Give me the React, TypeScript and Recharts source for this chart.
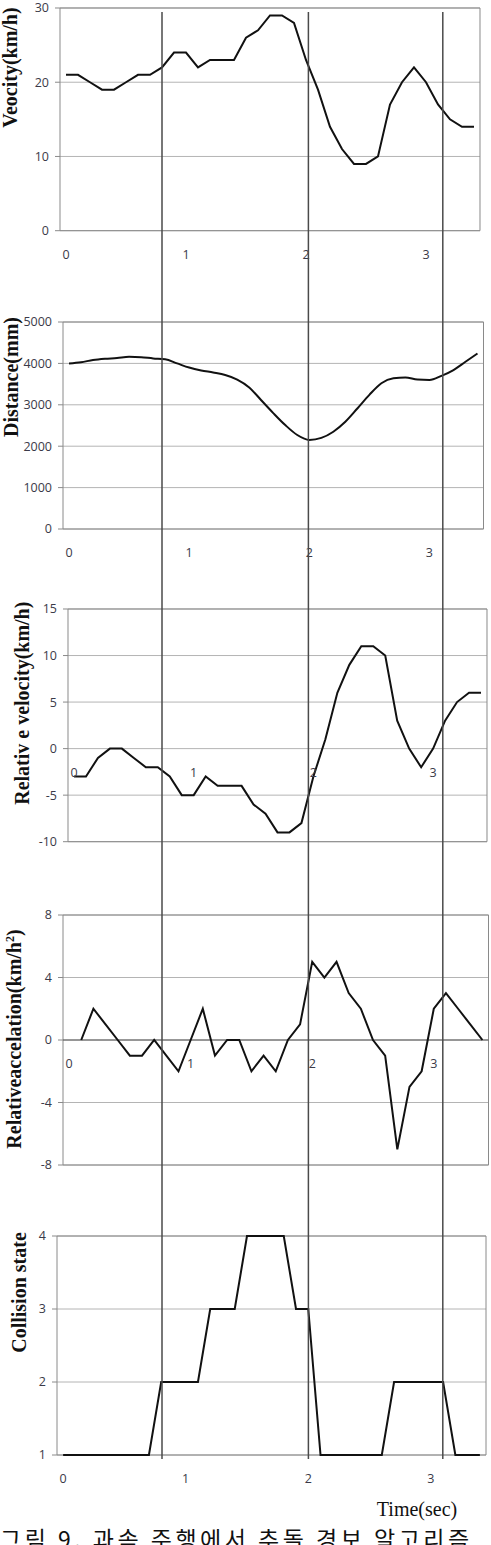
import React from 'react';
import { LineChart, Line, XAxis, YAxis, CartesianGrid, ReferenceArea, ReferenceLine, Label } from 'recharts';

// ---- data ----
const time = [0, 0.1, 0.2, 0.3, 0.4, 0.5, 0.6, 0.7, 0.8, 0.9, 1.0, 1.1, 1.2, 1.3, 1.4, 1.5, 1.6, 1.7, 1.8, 1.9, 2.0, 2.1, 2.2, 2.3, 2.4, 2.5, 2.6, 2.7, 2.8, 2.9, 3.0, 3.1, 3.2, 3.3, 3.4];
const velocity = [21, 21, 20, 19, 19, 20, 21, 21, 22, 24, 24, 22, 23, 23, 23, 26, 27, 29, 29, 28, 23, 19, 14, 11, 9, 9, 10, 17, 20, 22, 20, 17, 15, 14, 14];
const distance = [4000, 4030, 4080, 4110, 4130, 4160, 4150, 4120, 4100, 4000, 3900, 3830, 3780, 3720, 3610, 3420, 3110, 2800, 2510, 2270, 2150, 2200, 2350, 2590, 2910, 3240, 3520, 3640, 3660, 3610, 3600, 3700, 3840, 4040, 4240];
const relVelocity = [-3, -3, -1, 0, 0, -1, -2, -2, -3, -5, -5, -3, -4, -4, -4, -6, -7, -9, -9, -8, -3, 1, 6, 9, 11, 11, 10, 3, 0, -2, 0, 3, 5, 6, 6];
const relAcceleration = [null, 0, 2, 1, 0, -1, -1, 0, -1, -2, 0, 2, -1, 0, 0, -2, -1, -2, 0, 1, 5, 4, 5, 3, 2, 0, -1, -7, -3, -2, 2, 3, 2, 1, 0];
const collisionState = [1, 1, 1, 1, 1, 1, 1, 1, 2, 2, 2, 2, 3, 3, 3, 4, 4, 4, 4, 3, 3, 1, 1, 1, 1, 1, 1, 2, 2, 2, 2, 2, 1, 1, 1];
const markerTimes = [0.8, 2.02, 3.14];

const xTicks = [0, 1, 2, 3];
const velocityTicks = [0, 10, 20, 30];
const distanceTicks = [0, 1000, 2000, 3000, 4000, 5000];
const relVelocityTicks = [-10, -5, 0, 5, 10, 15];
const relAccelerationTicks = [-8, -4, 0, 4, 8];
const collisionTicks = [1, 2, 3, 4];

const rows = time.map((t, i) => ({
  t,
  velocity: velocity[i],
  distance: distance[i],
  relVelocity: relVelocity[i],
  relAcceleration: relAcceleration[i],
  collision: collisionState[i],
}));
// each marker is a vertical segment spanning the overlay's full height (0 -> 1)
const markerSegments = markerTimes.map((t) => [
  { t, span: 0 },
  { t, span: 1 },
]);

// ---- styles ----
const W = 491;
const X_DOMAIN: [number, number] = [-0.05, 3.45];
const TICK_FONT = "'Open Sans', 'Noto Sans', sans-serif";
const TITLE_FONT = "'Liberation Serif', 'DejaVu Serif', serif";
const TICK_COLOR = '#3a3a48';

type PanelProps = {
  dataKey: string;
  top: number;
  bottom: number;
  left: number;
  right: number;
  yDomain: [number, number];
  yTicks: number[];
  title: React.ReactNode;
  titleX: number;
  titleY: number;
  smooth?: boolean;
  zeroAxis?: boolean;
  zeroLine?: boolean;
  xAxisH?: number;
  footer?: React.ReactNode;
};

function Panel(p: PanelProps) {
  const pad = 10;
  const svgTop = p.top - pad;
  const plotH = p.bottom - p.top;
  const xAxisH = p.xAxisH ?? 45;
  const height = pad + plotH + xAxisH;
  const zeroY = p.zeroAxis
    ? pad + (plotH * (p.yDomain[1] - 0)) / (p.yDomain[1] - p.yDomain[0])
    : pad + plotH;
  const labelY = zeroY + 24;
  const renderXTick = (props: any) => (
    <text
      x={props.x}
      y={labelY}
      dy="0.35em"
      textAnchor="middle"
      fill={TICK_COLOR}
      fontSize={12.5}
      fontFamily={TICK_FONT}
    >
      {props.payload.value}
    </text>
  );
  const tx = p.titleX;
  const ty = p.titleY - svgTop;
  return (
    <div style={{ position: 'absolute', left: 0, top: svgTop }}>
      <LineChart width={W} height={height} data={rows} margin={{ top: pad, right: W - p.right, bottom: 0, left: 0 }}>
        <CartesianGrid vertical={false} stroke="#b4b4b4" strokeWidth={1} />
        <XAxis
          type="number"
          dataKey="t"
          domain={X_DOMAIN}
          ticks={xTicks}
          interval={0}
          axisLine={false}
          tickLine={false}
          tickSize={0}
          height={xAxisH}
          tick={renderXTick}
        >
          {p.footer ? <Label content={() => p.footer as any} /> : null}
        </XAxis>
        <YAxis
          type="number"
          domain={p.yDomain}
          ticks={p.yTicks}
          interval={0}
          width={p.left}
          axisLine={false}
          tickSize={5}
          tickMargin={6}
          tickLine={{ stroke: '#8a8a8a' }}
          tick={{ fill: TICK_COLOR, fontSize: 12.5, fontFamily: TICK_FONT }}
        >
          <Label
            content={() => (
              <text
                x={tx}
                y={ty}
                transform={`rotate(-90, ${tx}, ${ty})`}
                textAnchor="middle"
                fontFamily={TITLE_FONT}
                fontWeight="bold"
                fontSize={20}
                fill="#111"
              >
                {p.title}
              </text>
            )}
          />
        </YAxis>
        <ReferenceArea
          x1={X_DOMAIN[0]}
          x2={X_DOMAIN[1]}
          y1={p.yDomain[0]}
          y2={p.yDomain[1]}
          fill="none"
          stroke="#8a8a8a"
          strokeWidth={1}
        />
        {p.zeroLine ? <ReferenceLine y={0} stroke="#555" strokeWidth={1.2} /> : null}
        <Line
          dataKey={p.dataKey}
          type={p.smooth ? 'monotone' : 'linear'}
          stroke="#111"
          strokeWidth={2}
          dot={false}
          activeDot={false}
          isAnimationActive={false}
        />
      </LineChart>
    </div>
  );
}

export default function App() {
  const p5Top = 1236;
  return (
    <div style={{ position: 'absolute', left: 0, top: 0, width: W, height: 1545, overflow: 'hidden', background: '#fff' }}>
      <Panel
        dataKey="velocity"
        top={8}
        bottom={230.7}
        left={60}
        right={480}
        yDomain={[0, 30]}
        yTicks={velocityTicks}
        title="Veocity(km/h)"
        titleX={17}
        titleY={67.5}
      />
      <Panel
        dataKey="distance"
        top={322}
        bottom={529}
        left={63}
        right={483.5}
        yDomain={[0, 5000]}
        yTicks={distanceTicks}
        title="Distance(mm)"
        titleX={17.5}
        titleY={377}
        smooth
      />
      <Panel
        dataKey="relVelocity"
        top={609.3}
        bottom={842}
        left={68}
        right={487}
        yDomain={[-10, 15]}
        yTicks={relVelocityTicks}
        title="Relativ e velocity(km/h)"
        titleX={29}
        titleY={703.5}
        zeroAxis
      />
      <Panel
        dataKey="relAcceleration"
        top={915}
        bottom={1165}
        left={63}
        right={488.5}
        yDomain={[-8, 8]}
        yTicks={relAccelerationTicks}
        title={
          <>
            <tspan>Relativeaccelation(km/h</tspan>
            <tspan dy={-7} fontSize={12}>2</tspan>
            <tspan dy={7}>)</tspan>
          </>
        }
        titleX={21}
        titleY={1039}
        zeroAxis
        zeroLine
      />
      <Panel
        dataKey="collision"
        top={p5Top}
        bottom={1455}
        left={57}
        right={486}
        yDomain={[1, 4]}
        yTicks={collisionTicks}
        title="Collision state"
        titleX={25.5}
        titleY={1292.5}
        xAxisH={75}
        footer={
          <text x={417} y={1516 - (p5Top - 10)} textAnchor="middle" fontFamily={TITLE_FONT} fontSize={20} fill="#111">
            Time(sec)
          </text>
        }
      />
      <div style={{ position: 'absolute', left: 0, top: 0, pointerEvents: 'none', zIndex: 5 }}>
        <LineChart width={W} height={1470} margin={{ top: 12, right: 11, bottom: 11, left: 60 }}>
          <XAxis type="number" dataKey="t" domain={X_DOMAIN} hide />
          <YAxis type="number" dataKey="span" domain={[0, 1]} hide />
          {markerSegments.map((seg, i) => (
            <Line
              key={i}
              data={seg}
              dataKey="span"
              type="linear"
              stroke="#4a4a4a"
              strokeWidth={1.5}
              dot={false}
              activeDot={false}
              isAnimationActive={false}
            />
          ))}
        </LineChart>
      </div>
      <div
        style={{
          position: 'absolute',
          left: 0,
          top: 1527,
          width: 491,
          whiteSpace: 'nowrap',
          fontFamily: "'Noto Sans CJK KR', sans-serif",
          fontSize: 23,
          lineHeight: 1,
          letterSpacing: 3.5,
          color: '#111',
        }}
      >
        그림 9. 과속 주행에서 추돌 경보 알고리즘
      </div>
    </div>
  );
}
